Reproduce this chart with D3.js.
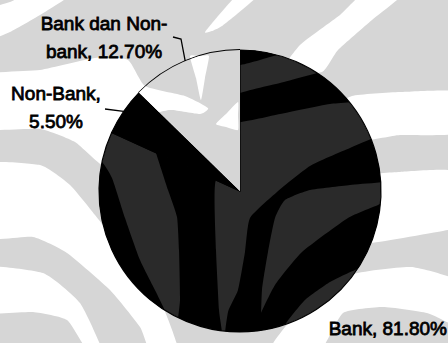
<!DOCTYPE html>
<html>
<head>
<meta charset="utf-8">
<script src="https://cdn.jsdelivr.net/npm/d3@7"></script>
<style>
  html, body { margin: 0; padding: 0; background: #fff; }
  svg { display: block; }
</style>
</head>
<body>
<script>
// ---- data ----
const categories = ["Bank", "Non-Bank", "Bank dan Non-bank"];
const shares = [81.8, 5.5, 12.7];
const labelLines = [
  ["Bank, 81.80%"],
  ["Non-Bank,", "5.50%"],
  ["Bank dan Non-", "bank, 12.70%"]
];

// ---- layout & style ----
const W = 448, H = 343;
const cx = 240, cy = 191, R = 141;
const sliceFill = ["#2a2a2a", "#000000", "#ffffff"];
const labelLayout = [
  { x: 447, y: 335, anchor: "end", leader: null },
  { x: 56, y: 100, anchor: "middle", leader: [[105, 109]] },
  { x: 104, y: 30, anchor: "middle", leader: [[173, 37], [181, 39]] }
];
const lineGap = 27.5;

// page watermark: light bands (white over grey)
const paperBands = [
  [[-20, 12], [-20, 42], [10, 32], [45, 12], [80, -12], [40, -12], [10, 2]],
  [[-20, 76], [40, 70], [95, 58], [128, 60], [145, 86], [185, 96], [208, 108],
   [200, 114], [170, 110], [140, 118], [115, 135], [103, 165], [75, 142], [40, 129], [-20, 128]],
  [[190, 56], [200, 56], [209, 56], [205, 78], [201, 100], [196, 78]],
  [[238, 102], [238, 116], [238, 130], [226, 127], [216, 124], [227, 113]],
  [[-20, 165], [40, 165], [70, 185], [95, 215], [130, 260], [160, 300], [178, 350],
   [150, 350], [140, 327], [110, 290], [67, 253], [33, 237], [-20, 237]],
  [[-20, 267], [43, 273], [80, 303], [102, 350], [87, 350], [67, 320], [33, 312], [-20, 312]],
  [[280, 75], [300, 45], [340, 15], [365, -8], [405, -8], [372, 20], [338, 50], [322, 72]],
  [[205, 32], [222, 26], [262, -8], [240, -8]],
  [[330, 112], [352, 96], [400, 92], [460, 92], [460, 133], [400, 135], [360, 140]],
  [[365, 178], [400, 172], [460, 172], [460, 228], [448, 230], [371, 243], [355, 235]],
  [[350, 275], [411, 267], [460, 282], [460, 323], [449, 323], [427, 313], [383, 307],
   [343, 313], [320, 350], [270, 350], [300, 310]]
];

// the same watermark seen through the dark slice: black bands
const darkBands = [
  [[80, 160], [100, 160], [112, 178], [125, 218], [140, 260], [156, 292], [172, 325], [185, 350], [80, 350]],
  [[140, 105], [155, 150], [168, 190], [177, 217], [179, 250], [180, 300], [177, 350],
   [222, 350], [219, 310], [216, 250], [215, 185], [232, 110]],
  [[236, 35], [236, 65], [270, 57], [300, 48], [310, 30]],
  [[236, 95], [280, 83], [330, 70], [400, 58], [400, 96], [330, 104], [280, 114], [236, 122]],
  [[225, 350], [228, 312], [238, 290], [245, 252], [250, 218], [277, 192], [310, 166], [350, 148],
   [400, 130], [400, 178], [350, 185], [310, 190], [285, 200], [275, 218], [268, 252], [262, 290], [258, 350]],
  [[250, 350], [258, 320], [275, 285], [302, 252], [348, 218], [378, 205], [400, 195],
   [400, 258], [360, 268], [330, 282], [305, 300], [285, 325], [278, 350]],
  [[290, 350], [305, 318], [330, 302], [360, 285], [400, 265], [400, 350]]
];

const svg = d3.select("body").append("svg")
  .attr("width", W).attr("height", H)
  .attr("viewBox", `0 0 ${W} ${H}`);

// smooth closed outline for watermark bands, kept tight to its vertices
const band = d3.line().curve(d3.curveCardinalClosed.tension(0.5));

function drawPaper(g) {
  g.append("rect").attr("width", W).attr("height", H).attr("fill", "#d6d6d6");
  g.selectAll("path.paper").data(paperBands).join("path")
    .attr("class", "paper")
    .attr("d", band).attr("fill", "#ffffff");
}

// background with watermark
drawPaper(svg.append("g"));

// pie
const arcs = d3.pie().sort(null).value(d => d)(shares);
const arcGen = d3.arc().innerRadius(0).outerRadius(R);

const defs = svg.append("defs");
defs.append("clipPath").attr("id", "bank-clip")
  .append("path")
  .attr("transform", `translate(${cx},${cy})`)
  .attr("d", arcGen(arcs[0]));
defs.append("clipPath").attr("id", "light-clip")
  .append("path")
  .attr("transform", `translate(${cx},${cy})`)
  .attr("d", arcGen(arcs[2]));

const pieG = svg.append("g").attr("transform", `translate(${cx},${cy})`);
pieG.selectAll("path.slice").data(arcs).join("path")
  .attr("class", "slice")
  .attr("d", arcGen)
  .attr("fill", (d, i) => sliceFill[i])
  .attr("stroke", (d, i) => i === 2 ? "none" : "#000")
  .attr("stroke-width", 1.2);

// watermark over the light slice
drawPaper(svg.append("g").attr("clip-path", "url(#light-clip)"));

// watermark bands over the Bank slice
svg.append("g").attr("clip-path", "url(#bank-clip)")
  .selectAll("path").data(darkBands).join("path")
  .attr("d", band).attr("fill", "#000");

// outer rim of the light slice
const light = arcs[2];
const rim = d3.path();
rim.arc(0, 0, R, light.startAngle - Math.PI / 2, light.endAngle - Math.PI / 2);
pieG.append("path").attr("d", rim.toString())
  .attr("fill", "none").attr("stroke", "#000").attr("stroke-width", 1.8);

// point on the rim at the middle of a slice
function rimPoint(a) {
  const m = (a.startAngle + a.endAngle) / 2;
  return [cx + Math.sin(m) * R, cy - Math.cos(m) * R];
}

// leader lines
const leaderLine = d3.line();
labelLayout.forEach((lay, i) => {
  if (!lay.leader) return;
  const pts = lay.leader.concat([rimPoint(arcs[i])]);
  svg.append("path").attr("d", leaderLine(pts))
    .attr("fill", "none").attr("stroke", "#000").attr("stroke-width", 1.3);
});

// labels
const labelG = svg.append("g")
  .attr("font-family", "'Liberation Sans', Arial, sans-serif")
  .attr("font-size", 19)
  .attr("fill", "#000")
  .attr("stroke", "#000")
  .attr("stroke-width", 0.8);

labelLayout.forEach((lay, i) => {
  const t = labelG.append("text")
    .attr("x", lay.x).attr("y", lay.y)
    .attr("text-anchor", lay.anchor);
  labelLines[i].forEach((line, k) => {
    t.append("tspan").attr("x", lay.x).attr("dy", k === 0 ? 0 : lineGap).text(line);
  });
});
</script>
</body>
</html>
